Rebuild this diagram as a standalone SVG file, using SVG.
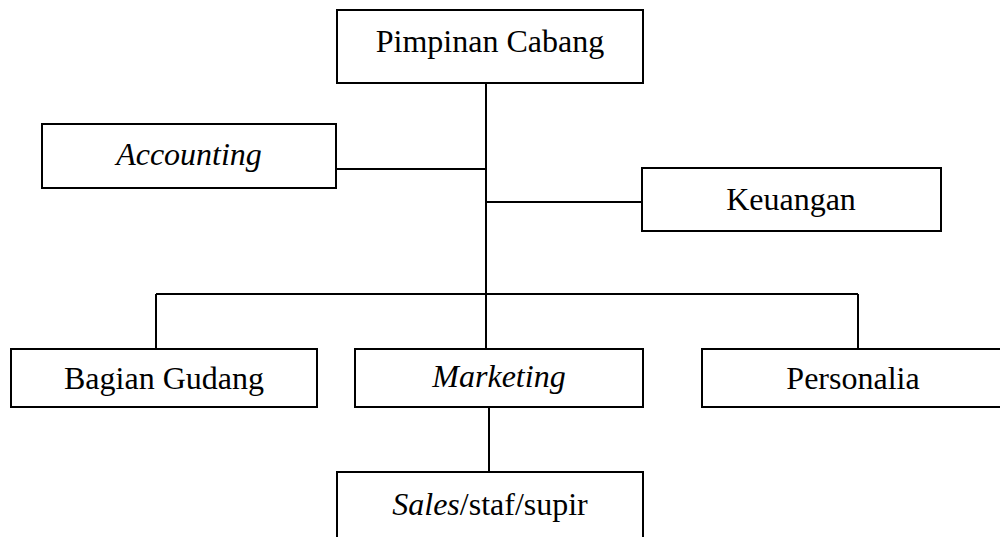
<svg xmlns="http://www.w3.org/2000/svg" width="1000" height="537" viewBox="0 0 1000 537">
<style>
.box{fill:#fff;stroke:#000;stroke-width:2}
.t{font-family:'Liberation Serif','Times New Roman',serif;font-size:32px;fill:#000;text-anchor:middle}
.i{font-style:italic}
.c{stroke:#000;stroke-width:2;fill:none}
</style>
<rect width="1000" height="537" fill="#fff"/>
<g id="connectors">
<line class="c" x1="486" y1="83" x2="486" y2="349"/>
<line class="c" x1="336" y1="169" x2="486" y2="169"/>
<line class="c" x1="486" y1="202" x2="642" y2="202"/>
<line class="c" x1="156" y1="294" x2="858" y2="294"/>
<line class="c" x1="156" y1="294" x2="156" y2="349"/>
<line class="c" x1="858" y1="294" x2="858" y2="349"/>
<line class="c" x1="489" y1="407" x2="489" y2="472"/>
</g>
<g id="pimpinan">
<rect class="box" x="337" y="10" width="306" height="73"/>
<text class="t" x="490" y="52">Pimpinan Cabang</text>
</g>
<g id="accounting">
<rect class="box" x="42" y="124" width="294" height="64"/>
<text class="t i" x="189" y="165">Accounting</text>
</g>
<g id="keuangan">
<rect class="box" x="642" y="168" width="299" height="63"/>
<text class="t" x="791" y="210">Keuangan</text>
</g>
<g id="gudang">
<rect class="box" x="11" y="349" width="306" height="58"/>
<text class="t" x="164" y="389">Bagian Gudang</text>
</g>
<g id="marketing">
<rect class="box" x="355" y="349" width="288" height="58"/>
<text class="t i" x="499" y="387">Marketing</text>
</g>
<g id="personalia">
<rect class="box" x="702" y="349" width="320" height="58"/>
<text class="t" x="853" y="389">Personalia</text>
</g>
<g id="sales">
<rect class="box" x="337" y="472" width="306" height="80"/>
<text class="t" x="490" y="515"><tspan class="i">Sales</tspan>/staf/supir</text>
</g>
</svg>
